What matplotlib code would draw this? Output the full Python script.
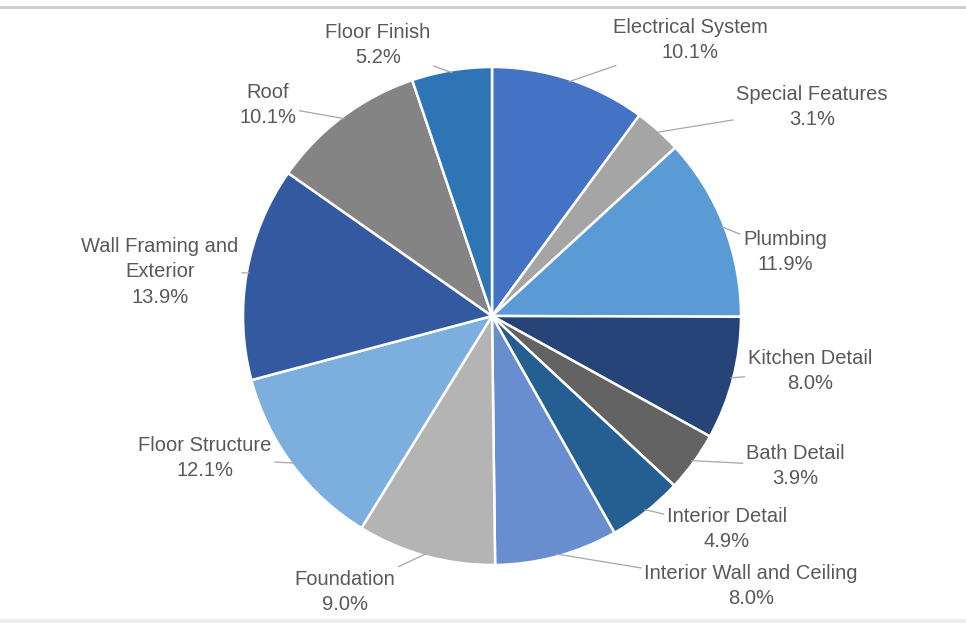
import numpy as np
import matplotlib.pyplot as plt
from matplotlib.lines import Line2D

plt.rcParams['font.family'] = ['Liberation Sans', 'DejaVu Sans']

# cost breakdown, clockwise from 12 o'clock
categories = ['Electrical System', 'Special Features', 'Plumbing', 'Kitchen Detail',
              'Bath Detail', 'Interior Detail', 'Interior Wall and Ceiling', 'Foundation',
              'Floor Structure', 'Wall Framing and\nExterior', 'Roof', 'Floor Finish']
shares = [10.1, 3.1, 11.9, 8.0, 3.9, 4.9, 8.0, 9.0, 12.1, 13.9, 10.1, 5.2]
colors = ['#4472C4', '#A5A5A5', '#5B9BD5', '#264478', '#636363', '#255E91',
          '#698ED0', '#B4B4B4', '#7CAFDD', '#335AA1', '#848484', '#2E75B6']

# where each label block sits (pie radius = 1)
label_pos = [(0.795, 1.108), (1.285, 0.839), (1.177, 0.257), (1.277, -0.221),
             (1.217, -0.602), (0.944, -0.855), (1.040, -1.084), (-0.590, -1.108),
             (-1.153, -0.570), (-1.333, 0.177), (-0.900, 0.847), (-0.458, 1.088)]

fig = plt.figure(figsize=(9.66, 6.23), dpi=100)
ax = fig.add_axes([0, 0, 1, 1])

wedges, _ = ax.pie(shares, colors=colors, startangle=90, counterclock=False,
                   radius=1.0, center=(0, 0),
                   wedgeprops=dict(edgecolor='white', linewidth=1.8))

for w, name, val, pos in zip(wedges, categories, shares, label_pos):
    mid = np.deg2rad((w.theta1 + w.theta2) / 2)
    tip = (0.99 * np.cos(mid), 0.99 * np.sin(mid))
    ax.annotate(f'{name}\n{val:.1f}%', xy=tip, xytext=pos,
                ha='center', va='center', fontsize=14.5, color='#595959',
                linespacing=1.45,
                bbox=dict(boxstyle='square,pad=0.15', fc='none', ec='none'),
                arrowprops=dict(arrowstyle='-', color='#A6A6A6', lw=0.9,
                                shrinkA=0, shrinkB=0))

ax.set_xlim(-492 / 249, (966 - 492) / 249)
ax.set_ylim((316 - 623) / 249, 316 / 249)
ax.set_aspect('auto')
ax.axis('off')

# thin frame lines at top and bottom
fig.add_artist(Line2D([0, 1], [1 - 7 / 623, 1 - 7 / 623], color='#CFCFCF', lw=2.2))
fig.add_artist(Line2D([0, 1], [2 / 623, 2 / 623], color='#EDEDED', lw=3))

fig.savefig('out.png', dpi=100)
